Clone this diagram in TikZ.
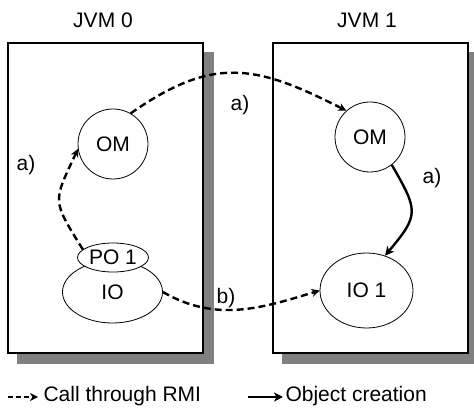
\documentclass[tikz,border=0pt]{standalone}
\usepackage{fontspec}
\setmainfont{Liberation Sans}
\usepackage{tikz}
\usetikzlibrary{shapes.geometric,arrows.meta,backgrounds}

\begin{document}
\begin{tikzpicture}[x=1pt,y=1pt,
    font=\fontsize{21}{25}\selectfont,
    jvm/.style={draw,line width=1.3pt,fill=white,minimum width=195pt,minimum height=310pt},
    shade box/.style={fill=gray},
    obj/.style={draw,line width=0.8pt,fill=white,inner sep=0pt},
    rmi/.style={line width=2.4pt,dash pattern=on 7pt off 4pt,-{Stealth[length=8pt,width=8pt,inset=2.5pt]}},
    create/.style={line width=2.4pt,-{Stealth[length=9pt,width=9pt,inset=2.5pt]}}]
    \useasboundingbox (0,0) rectangle (474,-414);
    % the two virtual machines
    \node[jvm] (jvmA) at (105.5,-198) {};
    \node[jvm] (jvmB) at (370.5,-198) {};
    \begin{scope}[on background layer]
      \fill[shade box] ([shift={(10,-10)}]jvmA.north west) rectangle ([shift={(10,-10)}]jvmA.south east);
      \fill[shade box] ([shift={(10,-10)}]jvmB.north west) rectangle ([shift={(10,-10)}]jvmB.south east);
    \end{scope}
    \node (jvmAlbl) at (103,-20) {JVM 0};
    \node (jvmBlbl) at (367,-20) {JVM 1};
    % objects
    \node[obj,circle,minimum size=70pt] (omA) at (113,-144) {OM};
    \node[obj,circle,minimum size=70pt] (omB) at (370,-137) {OM};
    \node[obj,ellipse,minimum width=100pt,minimum height=62pt] (io) at (112.5,-292) {\raisebox{-8pt}{IO}};
    \node[obj,ellipse,minimum width=71pt,minimum height=29pt] (po) at (113,-257.5) {PO 1};
    \node[obj,ellipse,minimum width=93pt,minimum height=75pt] (ioB) at (366.5,-290.5) {IO 1};
    % calls
    \draw[rmi] (po.165) to[out=122,in=245,looseness=1.5] (omA.188);
    \draw[rmi] (omA.60) to[out=35,in=153,looseness=1.2] (omB.132);
    \draw[rmi] (io.east) to[out=-30,in=197] (ioB.west);
    \draw[create] (omB.-52) to[out=-60,in=50,looseness=1.5] (ioB.62);
    \node (la) at (26,-165) {a)};
    \node (lb) at (240,-105) {a)};
    \node (lc) at (432,-178) {a)};
    \node (ld) at (226,-298) {b)};
    % legend
    \coordinate (k1) at (8,-397);
    \coordinate (k2) at (38,-397);
    \coordinate (k3) at (248,-397);
    \coordinate (k4) at (283,-397);
    \draw[rmi,line width=1.6pt,dash pattern=on 5pt off 3pt] (k1) -- (k2);
    \draw[create,line width=1.6pt] (k3) -- (k4);
    \node[anchor=west] (keyA) at (40,-396) {Call through RMI};
    \node[anchor=west] (keyB) at (282,-396) {Object creation};
\end{tikzpicture}
\end{document}
